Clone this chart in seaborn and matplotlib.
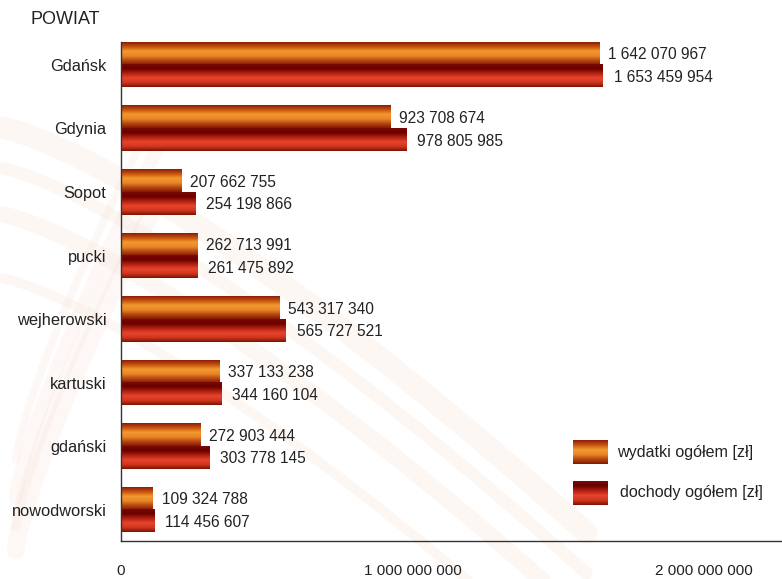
import numpy as np
import pandas as pd
import seaborn as sns
import matplotlib.pyplot as plt
from matplotlib.colors import LinearSegmentedColormap

# =========================
# DATA
# =========================
powiaty = ["Gdańsk", "Gdynia", "Sopot", "pucki", "wejherowski",
           "kartuski", "gdański", "nowodworski"]
wydatki = [1642070967, 923708674, 207662755, 262713991,
           543317340, 337133238, 272903444, 109324788]
dochody = [1653459954, 978805985, 254198866, 261475892,
           565727521, 344160104, 303778145, 114456607]
series = ["wydatki ogółem [zł]", "dochody ogółem [zł]"]
x_ticks = [0, 1000000000, 2000000000]

df = pd.DataFrame({
    "powiat": powiaty * 2,
    "kwota": wydatki + dochody,
    "seria": [series[0]] * len(powiaty) + [series[1]] * len(powiaty),
})

# gradients top -> bottom
orange_cm = LinearSegmentedColormap.from_list(
    "orange", ["#8a1c06", "#c5520f", "#f29a2c", "#e8862a", "#b8470f", "#7e1806"])
red_cm = LinearSegmentedColormap.from_list(
    "red", ["#7a0a02", "#6a0000", "#b0200f", "#e8432e", "#d0361f", "#7a1204"])
cmaps = {series[0]: orange_cm, series[1]: red_cm}

def fmt(v):
    return f"{v:,}".replace(",", " ")

sns.set_style("white")
plt.rcParams["font.family"] = ["Liberation Sans", "DejaVu Sans"]

fig = plt.figure(figsize=(7.82, 5.79), dpi=100)

# faint decorative background swirls
bg = fig.add_axes([0, 0, 1, 1], zorder=-5)
bg.set_axis_off()
bg.set_xlim(0, 1)
bg.set_ylim(0, 1)
t = np.linspace(0, 1, 200)
for a, w in [(0.0, 16), (0.07, 9), (0.15, 12), (0.26, 7)]:
    bg.plot(t * 0.75, 0.78 - a - 0.7 * t ** 1.3, color="#f0c0ac", lw=w, alpha=0.12,
            solid_capstyle="round")
    bg.plot(0.02 + 0.18 * t, 0.05 + 0.6 * t ** 0.8 + a * 0.6, color="#f2c8b6",
            lw=w * 0.8, alpha=0.12)

ax = fig.add_axes([121 / 782, 1 - 541 / 579, 1 - 121 / 782, (541 - 42) / 579])
ax.patch.set_alpha(0)

sns.barplot(data=df, x="kwota", y="powiat", hue="seria", orient="h",
            width=0.71, ax=ax, legend=False, errorbar=None)

grad = np.linspace(0, 1, 256).reshape(-1, 1)
n = len(powiaty)
for i, p in enumerate(ax.patches[:2 * n]):
    s = series[i // n]
    x0, y0, w, h = p.get_x(), p.get_y(), p.get_width(), p.get_height()
    p.set_alpha(0)
    ax.imshow(grad, cmap=cmaps[s], aspect="auto", origin="upper",
              extent=(x0, x0 + w, y0 + h, y0), zorder=2)
    off = 0.03e9 if i < n else 0.037e9
    ax.text(x0 + w + off, y0 + h / 2 + 0.02, fmt(int(w)), va="center",
            ha="left", fontsize=11.2, color="#222222", zorder=3)

ax.set_xlim(0, 2.268e9)
ax.set_ylim(7.49, -0.36)

ax.set_xticks(x_ticks)
ax.set_xticklabels([fmt(v) for v in x_ticks], fontsize=11, color="#222222")
ax.tick_params(axis="x", direction="inout", length=11, width=0.8,
               color="#333333", pad=11)
ax.tick_params(axis="y", length=0, pad=10.5, labelsize=11.8, labelcolor="#222222")
ax.set_xlabel("")
ax.set_ylabel("")
for side in ["top", "right"]:
    ax.spines[side].set_visible(False)
for side in ["left", "bottom"]:
    ax.spines[side].set_color("#333333")
    ax.spines[side].set_linewidth(1.0)

fig.text(30 / 782, 1 - 20 / 579, "POWIAT", fontsize=13, color="#222222",
         va="center", ha="left")

# legend with gradient swatches
for j, (s, ytop) in enumerate(zip(series, [440, 481])):
    lx = fig.add_axes([573 / 782, 1 - (ytop + 24) / 579, 35 / 782, 24 / 579])
    lx.imshow(grad, cmap=cmaps[s], aspect="auto")
    lx.set_axis_off()
    fig.text(617 / 782 + j * 0.004, 1 - (ytop + 12) / 579, s, fontsize=11.6,
             color="#222222", va="center", ha="left")

fig.savefig("out.png", dpi=100)
